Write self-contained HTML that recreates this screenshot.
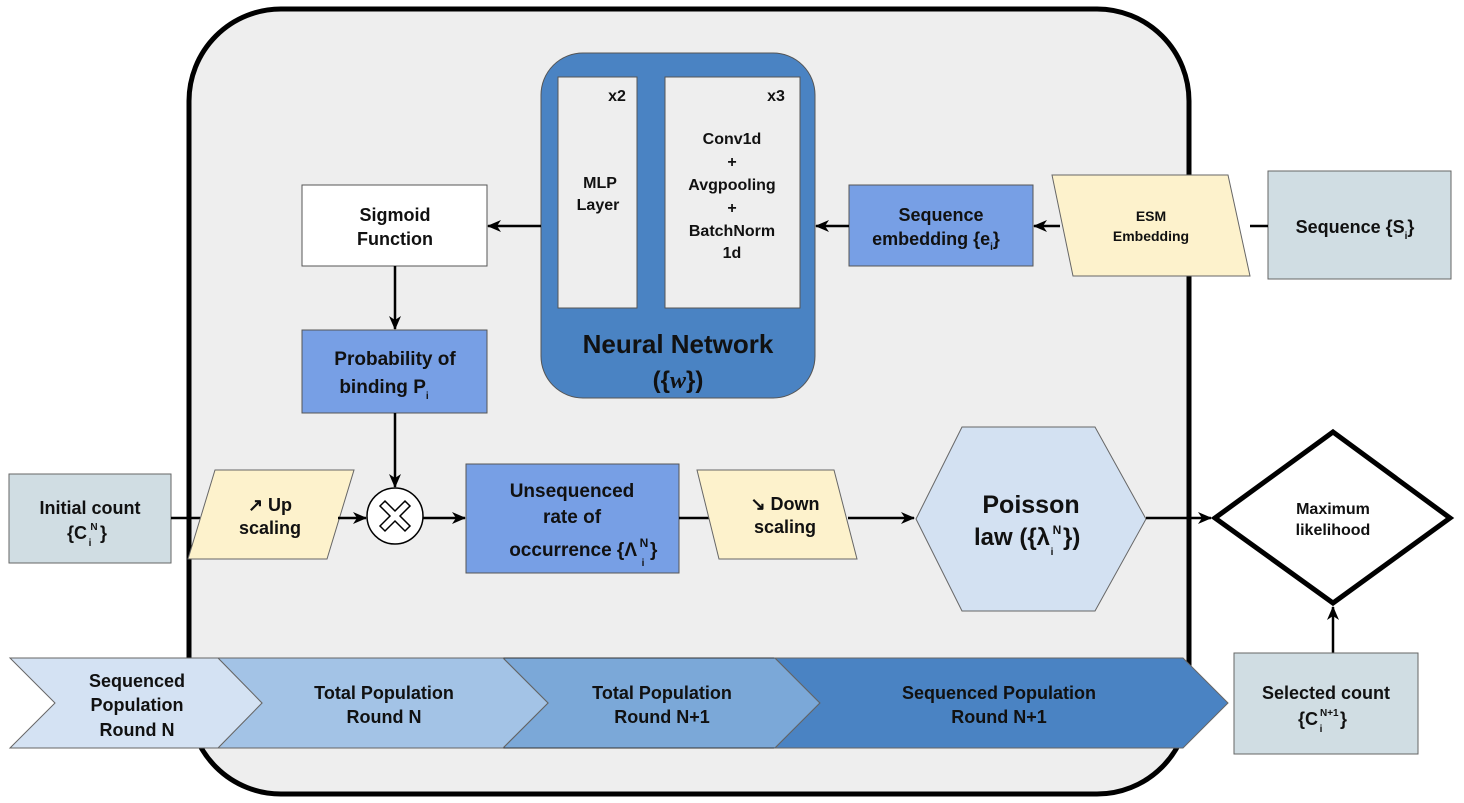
<!DOCTYPE html>
<html><head><meta charset="utf-8"><style>
html,body{margin:0;padding:0;background:#fff;}
svg{display:block;}
text{font-family:"Liberation Sans",sans-serif;font-weight:bold;fill:#111;text-anchor:middle;}
</style></head><body>
<svg width="1464" height="803" viewBox="0 0 1464 803" xmlns="http://www.w3.org/2000/svg">
<defs>
<marker id="a" viewBox="0 0 14 12" refX="13" refY="6" markerWidth="14" markerHeight="12" orient="auto" markerUnits="userSpaceOnUse"><path d="M0,0 L14,6 L0,12 L4,6 Z" fill="#000"/></marker>
</defs>
<rect x="189" y="9" width="1000" height="785" rx="92" fill="#eeeeee" stroke="#000" stroke-width="5"/>
<!-- NN -->
<rect x="541" y="53" width="274" height="345" rx="42" fill="#4a83c3" stroke="#555" stroke-width="1"/>
<rect x="558" y="77" width="79" height="231" fill="#eeeeee" stroke="#555"/>
<rect x="665" y="77" width="135" height="231" fill="#eeeeee" stroke="#555"/>
<text x="617" y="101" font-size="16">x2</text>
<text x="776" y="101" font-size="16">x3</text>
<text x="600" y="188" font-size="16">MLP</text>
<text x="598" y="210" font-size="16">Layer</text>
<text x="732" y="144" font-size="16">Conv1d</text>
<text x="732" y="167" font-size="16">+</text>
<text x="732" y="190" font-size="16">Avgpooling</text>
<text x="732" y="213" font-size="16">+</text>
<text x="732" y="236" font-size="16">BatchNorm</text>
<text x="732" y="258" font-size="16">1d</text>
<text x="678" y="353" font-size="26">Neural Network</text>
<text x="678" y="388" font-size="24">({<tspan font-family="Liberation Serif" font-style="italic">w</tspan>})</text>
<!-- Sigmoid -->
<rect x="302" y="185" width="185" height="81" fill="#fff" stroke="#555"/>
<text x="395" y="221" font-size="18">Sigmoid</text>
<text x="395" y="245" font-size="18">Function</text>
<rect x="302" y="330" width="185" height="83" fill="#779fe5" stroke="#555"/>
<text x="395" y="365" font-size="19">Probability of</text>
<text x="384" y="393" font-size="19">binding P<tspan font-size="10" dy="6">i</tspan></text>
<!-- Sequence embedding -->
<rect x="849" y="185" width="184" height="81" fill="#779fe5" stroke="#555"/>
<text x="941" y="221" font-size="18">Sequence</text>
<text x="936" y="245" font-size="18">embedding {e<tspan font-size="10" dy="5">i</tspan><tspan dy="-5">}</tspan></text>
<polygon points="1052,175 1228,175 1250,276 1073,276" fill="#fdf2cc" stroke="#666"/>
<text x="1151" y="221" font-size="14">ESM</text>
<text x="1151" y="241" font-size="14">Embedding</text>
<rect x="1268" y="171" width="183" height="108" fill="#d0dde3" stroke="#666"/>
<text x="1355" y="233" font-size="18">Sequence {S<tspan font-size="10" dy="6">i</tspan><tspan dy="-6">}</tspan></text>
<!-- connectors top -->
<line x1="1250" y1="226" x2="1268" y2="226" stroke="#000" stroke-width="2.5"/>
<line x1="1060" y1="226" x2="1034" y2="226" stroke="#000" stroke-width="2.5" marker-end="url(#a)"/>
<line x1="849" y1="226" x2="816" y2="226" stroke="#000" stroke-width="2.5" marker-end="url(#a)"/>
<line x1="541" y1="226" x2="488" y2="226" stroke="#000" stroke-width="2.5" marker-end="url(#a)"/>
<line x1="395" y1="266" x2="395" y2="329" stroke="#000" stroke-width="2.5" marker-end="url(#a)"/>
<line x1="395" y1="413" x2="395" y2="487" stroke="#000" stroke-width="2.5" marker-end="url(#a)"/>
<!-- middle row -->
<rect x="9" y="474" width="162" height="89" fill="#d0dde3" stroke="#666"/>
<text x="90" y="514" font-size="18">Initial count</text>
<text x="87" y="539" font-size="18" style="text-anchor:end">{C</text>
<text x="90" y="546" font-size="10">i</text>
<text x="94" y="530" font-size="10">N</text>
<text x="100" y="539" font-size="18" style="text-anchor:start">}</text>
<line x1="171" y1="518" x2="200" y2="518" stroke="#000" stroke-width="2.5"/>
<polygon points="215,470 354,470 327,559 188,559" fill="#fdf2cc" stroke="#666"/>
<text x="270" y="511" font-size="18">↗ Up</text>
<text x="270" y="534" font-size="18">scaling</text>
<line x1="338" y1="518" x2="366" y2="518" stroke="#000" stroke-width="2.5" marker-end="url(#a)"/>
<circle cx="395" cy="516" r="28" fill="#fff" stroke="#000" stroke-width="1.5"/>
<path d="M380,506 L385,501 L395,511 L405,501 L410,506 L400,516 L410,526 L405,531 L395,521 L385,531 L380,526 L390,516 Z" fill="#fff" stroke="#000" stroke-width="1.5"/>
<line x1="423" y1="518" x2="465" y2="518" stroke="#000" stroke-width="2.5" marker-end="url(#a)"/>
<rect x="466" y="464" width="213" height="109" fill="#779fe5" stroke="#555"/>
<text x="572" y="497" font-size="19">Unsequenced</text>
<text x="572" y="523" font-size="19">rate of</text>
<text x="637" y="556" font-size="19" style="text-anchor:end">occurrence {Λ</text>
<text x="644" y="547" font-size="12">N</text>
<text x="643" y="566" font-size="10">i</text>
<text x="650" y="556" font-size="19" style="text-anchor:start">}</text>
<line x1="679" y1="518" x2="710" y2="518" stroke="#000" stroke-width="2.5"/>
<polygon points="697,470 834,470 857,559 719,559" fill="#fdf2cc" stroke="#666"/>
<text x="785" y="510" font-size="18">↘ Down</text>
<text x="785" y="533" font-size="18">scaling</text>
<line x1="848" y1="518" x2="914" y2="518" stroke="#000" stroke-width="2.5" marker-end="url(#a)"/>
<polygon points="916,519 962,427 1095,427 1146,519 1095,611 962,611" fill="#d3e1f2" stroke="#666"/>
<text x="1031" y="513" font-size="25">Poisson</text>
<text x="1050" y="545" font-size="24" style="text-anchor:end">law ({λ</text>
<text x="1052" y="555" font-size="10">i</text>
<text x="1057" y="534" font-size="12">N</text>
<text x="1063" y="545" font-size="24" style="text-anchor:start">})</text>
<line x1="1146" y1="518" x2="1211" y2="518" stroke="#000" stroke-width="2.5" marker-end="url(#a)"/>
<polygon points="1333,432 1450,518 1333,603 1215,518" fill="#fff" stroke="#000" stroke-width="5"/>
<text x="1333" y="514" font-size="16">Maximum</text>
<text x="1333" y="535" font-size="16">likelihood</text>
<line x1="1333" y1="653" x2="1333" y2="607" stroke="#000" stroke-width="2.5" marker-end="url(#a)"/>
<rect x="1234" y="653" width="184" height="101" fill="#d0dde3" stroke="#666"/>
<text x="1326" y="699" font-size="18">Selected count</text>
<text x="1318" y="725" font-size="18" style="text-anchor:end">{C</text>
<text x="1321" y="732" font-size="10">i</text>
<text x="1320" y="716" font-size="10" style="text-anchor:start">N+1</text>
<text x="1340" y="725" font-size="18" style="text-anchor:start">}</text>
<!-- chevrons -->
<polygon points="503,658 775,658 820,703 775,748 503,748 548,703" fill="#7ba8d8" stroke="#333"/>
<polygon points="775,658 1183,658 1228,703 1183,748 775,748 820,703" fill="#4a83c3" stroke="#666"/>
<polygon points="218,658 503,658 548,703 503,748 218,748 262,703" fill="#a3c3e6" stroke="#666"/>
<polygon points="10,658 218,658 262,703 218,748 10,748 55,703" fill="#d4e2f3" stroke="#666"/>
<text x="137" y="687" font-size="18">Sequenced</text>
<text x="137" y="711" font-size="18">Population</text>
<text x="137" y="736" font-size="18">Round N</text>
<text x="384" y="699" font-size="18">Total Population</text>
<text x="384" y="723" font-size="18">Round N</text>
<text x="662" y="699" font-size="18">Total Population</text>
<text x="662" y="723" font-size="18">Round N+1</text>
<text x="999" y="699" font-size="18">Sequenced Population</text>
<text x="999" y="723" font-size="18">Round N+1</text>
</svg>
</body></html>
